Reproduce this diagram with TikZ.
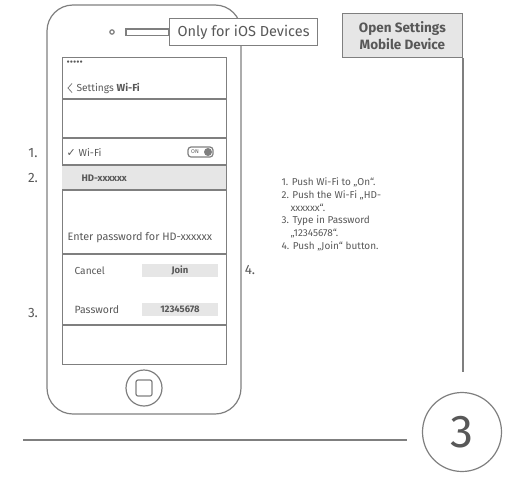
\documentclass[tikz,border=0pt]{standalone}
\usepackage{fontspec}
\setmainfont{Fira Sans}
\newfontfamily\symfont{DejaVu Sans}
\definecolor{linegray}{HTML}{7F7F7F}
\definecolor{textgray}{HTML}{585858}
\definecolor{fillgray}{HTML}{E6E6E6}

\begin{document}
\begin{tikzpicture}
[x=1pt,y=-1pt,color=linegray,line width=1.2pt,%
  every node/.style={text=textgray,inner sep=0pt},%
  lbl/.style={anchor=west,font=\fontsize{10.2}{11}\selectfont},%
  num/.style={font=\fontsize{13.5}{14}\selectfont},%
  btn/.style={fill=fillgray,minimum width=76,minimum height=13,font=\bfseries\fontsize{9.5}{10}\selectfont}]
\useasboundingbox (0,0) rectangle (508,477);
%% phone body
\draw[rounded corners=26pt] (47,5) rectangle (241,414);
\node[draw,minimum width=164,minimum height=307,anchor=north west] (screen) at (62,57) {};
\draw (112,32) circle (2.2);
\node[draw,circle,minimum size=36] (home) at (144,388) {};
\node[draw,rounded corners=2pt,minimum size=16] (homekey) at (home.center) {};
%% screen rows
\fill[fillgray] (62,165) rectangle (226,190);
\foreach \y in {99,138,165,190,254,325}
  \draw (screen.west |- 0,\y) -- (screen.east |- 0,\y);
\node[lbl,font=\fontsize{10}{10}\selectfont] (dots) at (66,63) {•••••};
\draw[line width=0.8pt] (72,83.5) -- (68,88) -- (72,92.5);
\node[lbl] (settings) at (76,88) {Settings \textbf{Wi-Fi}};
\node[lbl,font=\symfont\fontsize{11}{9}\selectfont] (check) at (66,153) {✓};
\node[lbl] (wifi) at (78,153) {Wi-Fi};
\node[draw,rounded corners=3pt,minimum width=25,minimum height=10] (toggle) at (200.5,152) {};
\node[font=\fontsize{5.5}{5}\selectfont] (on) at (195,152) {ON};
\fill (208,152) circle (4);
\node[lbl,font=\bfseries\fontsize{9.5}{10}\selectfont] (network) at (81,178) {HD-xxxxxx};
\node[lbl,font=\fontsize{10.8}{11}\selectfont] (enter) at (67,238) {Enter password for HD-xxxxxx};
\node[lbl] (cancel) at (74,271) {Cancel};
\node[btn] (join) at (180,270.5) {Join};
\node[lbl,font=\fontsize{10.5}{11}\selectfont] (password) at (74,310) {Password};
\node[btn] (code) at (180,309.5) {12345678};
%% step numbers
\node[num] (n1) at (33,153) {1.};
\node[num] (n2) at (33,178) {2.};
\node[num] (n3) at (33,313) {3.};
\node[num] (n4) at (250,270) {4.};
%% callouts
\node[draw,fill=white,minimum width=148,minimum height=27,anchor=north west,%
  font=\fontsize{14.5}{15}\selectfont] (ios) at (169,18) {Only for iOS Devices};
\coordinate (slot) at (126,32);
\draw (slot) ++(0,-3) rectangle ([yshift=-3pt]ios.west);
\node[draw,fill=fillgray,align=center,minimum width=120,minimum height=44,anchor=north east,%
  font=\bfseries\fontsize{13.5}{17}\selectfont] (open) at (463,13) {Open Settings\\Mobile Device};
\node[anchor=north west,align=left,font=\fontsize{10}{12.8}\selectfont] (steps) at (281,177)
  {1. Push Wi-Fi to „On“.\\
   2. Push the Wi-Fi „HD-\\
   \hspace*{9pt}xxxxxx“.\\
   3. Type in Password\\
   \hspace*{9pt}„12345678“.\\
   4. Push „Join“ button.};
%% number three
\node[draw,circle,minimum size=79,font=\fontsize{46}{46}\selectfont] (three) at (462,432) {3};
\coordinate (vend) at (463,372);
\coordinate (hstart) at (23,440);
\coordinate (hend) at (407,440);
\path
\foreach \startNode/\endNode in {open.south east/vend, hstart/hend}
{
  (\startNode) edge[line width=1.5pt] (\endNode)
};
\end{tikzpicture}
\end{document}
